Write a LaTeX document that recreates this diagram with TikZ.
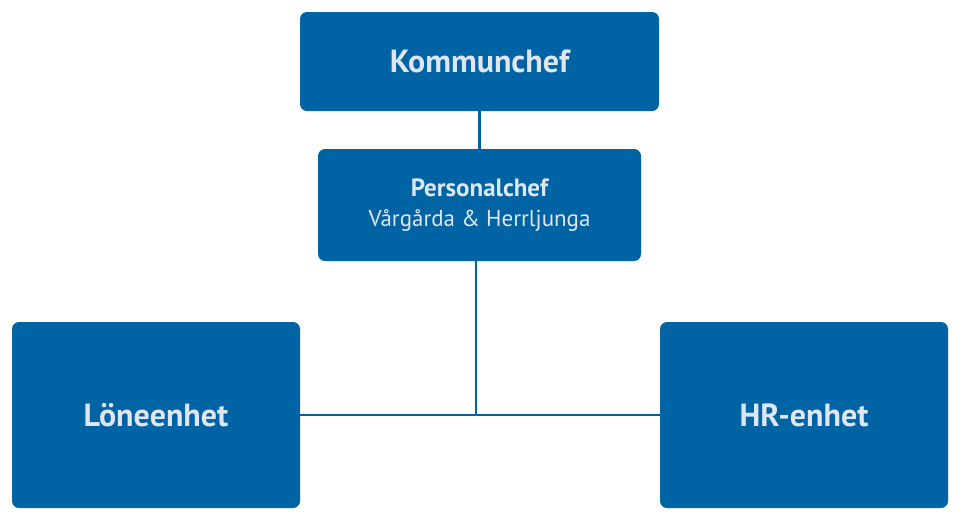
\documentclass[tikz,border=0pt]{standalone}
\usepackage{fontspec}
\setmainfont{PT Sans}
\definecolor{orgblue}{HTML}{0063A3}
\definecolor{orgtext}{HTML}{DDE6F2}

\begin{document}
\begin{tikzpicture}[x=1pt, y=-1pt,
    unit/.style={fill=orgblue, rounded corners=7pt, text=orgtext, align=center, inner sep=0pt},
    link/.style={draw=orgblue, line width=2.6pt}]
    \useasboundingbox (0,0) rectangle (960,520);

    \node [unit, minimum width=359pt, minimum height=99pt, font=\bfseries\fontsize{32}{36}\selectfont] (kc) at (479.5,61.5) {Kommunchef};
    \node [unit, minimum width=323pt, minimum height=112pt, font=\fontsize{23}{30}\selectfont] (pc) at (479.5,205)
      {{\fontsize{25}{30}\selectfont\bfseries Personalchef}\\V\aa rg\aa rda \& Herrljunga};
    \node [unit, minimum width=288pt, minimum height=186pt, font=\bfseries\fontsize{32}{36}\selectfont] (lon) at (156,415) {L\"oneenhet};
    \node [unit, minimum width=288pt, minimum height=186pt, font=\bfseries\fontsize{32}{36}\selectfont] (hr) at (804,415) {HR-enhet};

    \coordinate (junc) at (476,415);
    \draw [link] (kc.south) -- (pc.north);
    \draw [link] (pc.south -| junc) -- (junc);
    \draw [link] (lon.east) -- (hr.west);
\end{tikzpicture}
\end{document}
